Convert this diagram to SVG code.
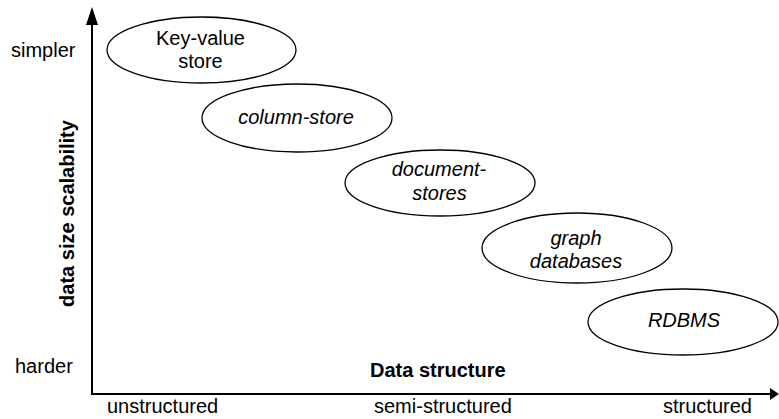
<svg xmlns="http://www.w3.org/2000/svg" width="779" height="419" viewBox="0 0 779 419">
<style>
text{font-family:"Liberation Sans",Arial,Helvetica,sans-serif;font-size:20px;fill:#000}
.b{font-weight:bold}
.i{font-style:italic}
.m{text-anchor:middle}
ellipse{fill:#fff;stroke:#000;stroke-width:1.3}
.ax{stroke:#000;stroke-width:2;fill:none}
</style>
<rect width="779" height="419" fill="#fff"/>
<g id="connectors">
<line class="ax" x1="92" y1="395" x2="92" y2="22"/>
<polygon points="92,7 86,25 98,25" fill="#000"/>
<line class="ax" x1="91" y1="394" x2="772" y2="394"/>
<polygon points="779,394 770,388 770,400" fill="#000"/>
</g>
<g id="axis-labels">
<text x="11" y="57">simpler</text>
<text x="15" y="373">harder</text>
<text class="b" transform="translate(74,213.5) rotate(-90)" text-anchor="middle">data size scalability</text>
<text class="b" x="370" y="377">Data structure</text>
<text x="107" y="413">unstructured</text>
<text x="374" y="413">semi-structured</text>
<text x="663" y="413">structured</text>
</g>
<g id="key-value">
<ellipse cx="201.5" cy="50" rx="94.5" ry="33"/>
<text class="m" x="200.5" y="45">Key-value</text>
<text class="m" x="200.5" y="68">store</text>
</g>
<g id="column-store">
<ellipse cx="297" cy="118" rx="95" ry="34"/>
<text class="m i" x="296" y="124">column-store</text>
</g>
<g id="document-stores">
<ellipse cx="440" cy="183" rx="95" ry="33"/>
<text class="m i" x="439" y="176">document-</text>
<text class="m i" x="439.5" y="200">stores</text>
</g>
<g id="graph-databases">
<ellipse cx="577" cy="248" rx="95" ry="35"/>
<text class="m i" x="576" y="245">graph</text>
<text class="m i" x="576" y="268">databases</text>
</g>
<g id="rdbms">
<ellipse cx="683" cy="322" rx="95" ry="33"/>
<text class="m i" x="684" y="327">RDBMS</text>
</g>
</svg>
